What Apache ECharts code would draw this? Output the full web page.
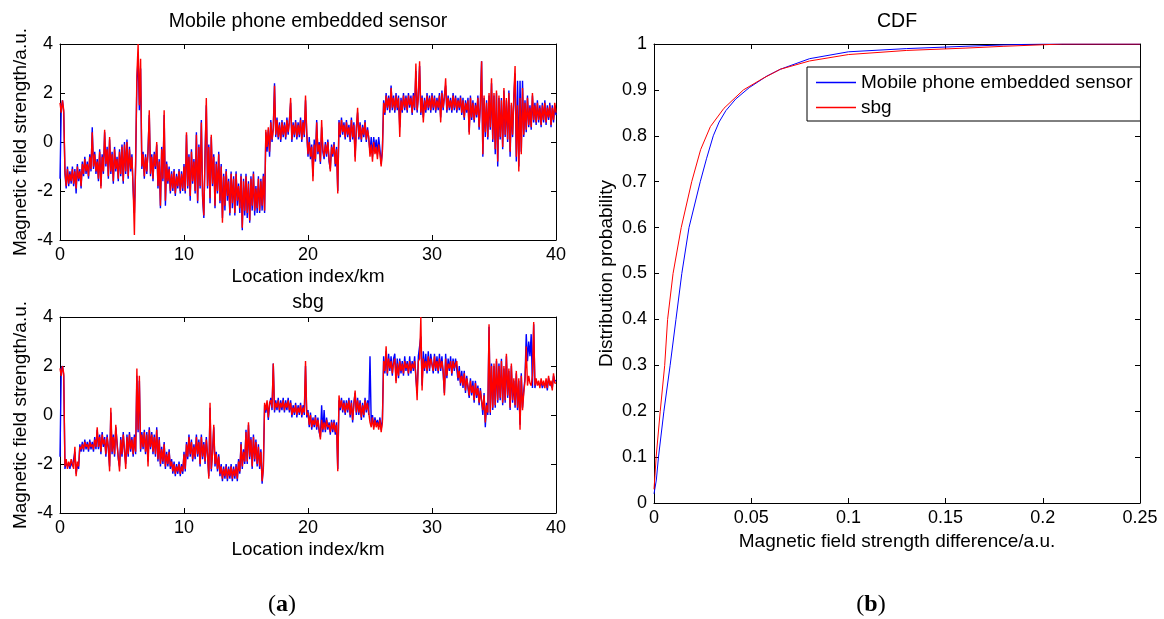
<!DOCTYPE html>
<html>
<head>
<meta charset="utf-8">
<script src="https://cdn.jsdelivr.net/npm/echarts@6/dist/echarts.min.js"></script>
<style>
html,body{margin:0;padding:0;background:#fff;}
#chart{width:1164px;height:619px;}
</style>
</head>
<body>
<div id="chart"></div>
<script>
// ---------- DATA ----------
// Location index (km) sampled every 0.1 km from 0 to 40 (one row per km)
const kmStep = 0.1;
const kmTicks = [0, 10, 20, 30, 40];
const fieldTicks = [-4, -2, 0, 2, 4];

// Panel (a) top: "Mobile phone embedded sensor"
const phoneBlue = [
 -1.5,1.4,1.7,1.2,-1.3,-1.9,-1.0,-1.8,-1.2,-1.7,
 -1.0,-1.8,-1.1,-2.1,-0.9,-1.6,-1.1,-1.9,-0.8,-1.4,
 -0.6,-1.3,-0.8,-1.5,-0.5,-1.2,0.6,-1.1,-0.4,-1.3,
 -0.7,-1.6,-0.3,-1.8,-0.5,-1.3,0.4,-1.0,-0.2,-1.5,
 0.1,-1.3,-0.4,-1.7,-0.2,-1.2,-0.6,-1.6,-0.3,-1.4,
 -0.1,-1.7,0.0,-1.3,0.1,-1.5,-0.2,-1.2,-0.5,-2.0,
 -2.9,-0.9,2.4,3.5,1.3,3.0,-1.1,-0.4,-1.5,-0.5,
 -1.3,-0.3,1.1,-1.4,-0.5,-1.6,-0.4,-1.1,-0.1,-1.9,
 -0.7,-2.7,-0.2,-1.6,1.1,-2.6,-0.8,-1.7,-1.0,-2.1,
 -1.2,-2.0,-1.1,-2.2,-1.3,-1.9,-1.1,-2.1,-1.2,-2.0,
 -0.9,-2.1,0.3,-1.9,-0.5,-2.4,-0.3,-1.7,-0.7,-2.1,
 0.4,-2.5,-0.1,-1.9,0.9,-2.3,-3.1,-0.4,1.5,-1.9,
 -0.1,-2.5,0.2,-1.8,-0.5,-2.7,-0.8,-2.1,-0.4,-2.5,
 -0.9,-3.1,-1.3,-2.8,-1.1,-2.4,-1.5,-3.0,-1.2,-2.7,
 -1.4,-3.0,-1.2,-2.6,-1.7,-2.9,-1.3,-3.6,-1.5,-3.0,
 -1.3,-3.1,-1.6,-3.3,-1.4,-2.8,-1.2,-3.0,-1.8,-2.9,
 -1.4,-2.9,-1.5,-2.8,-1.3,-2.9,0.4,-0.4,0.5,-0.6,
 0.9,0.0,0.6,2.4,0.2,1.0,0.1,0.8,0.0,0.9,
 0.2,0.8,0.1,1.0,0.3,0.9,1.6,0.0,0.8,0.2,
 0.9,0.1,0.8,0.2,1.0,0.0,0.9,0.2,1.7,0.3,
 -0.6,0.2,-0.7,-0.1,-1.4,0.1,-0.8,0.9,-0.5,0.0,
 -0.9,0.6,-0.4,-0.7,0.0,-0.6,0.1,-0.8,-1.1,-0.1,
 -0.6,0.0,-1.0,-0.2,-2.0,0.9,0.2,1.0,0.3,0.8,
 0.1,0.9,0.2,0.7,0.0,1.0,0.1,0.8,-0.6,0.6,
 1.2,0.1,0.8,0.0,0.7,0.2,0.9,0.0,0.6,0.1,
 -0.4,0.2,-0.6,0.2,-0.3,0.1,-0.5,0.2,-0.3,-0.9,
 -0.3,1.7,1.1,2.0,1.3,1.9,1.2,2.3,1.3,1.9,
 1.2,2.0,1.3,1.9,0.6,1.8,1.2,2.0,1.3,1.9,
 1.2,2.0,1.4,1.9,1.1,2.0,1.3,2.9,1.2,1.9,
 3.1,1.1,1.9,1.0,1.8,1.2,2.0,1.3,1.9,1.2,
 2.0,1.3,1.9,1.2,1.8,1.3,2.0,1.0,2.1,1.3,
 1.9,2.3,1.2,1.9,1.3,1.8,1.2,2.0,1.3,1.9,
 1.2,1.8,1.3,1.9,1.1,1.8,0.9,1.7,1.2,1.8,
 0.4,1.9,0.9,1.7,0.8,1.6,1.0,1.9,0.5,1.6,
 3.3,-0.6,1.8,0.2,1.7,0.1,1.9,0.5,2.4,0.0,
 1.9,-0.5,2.0,-1.0,1.8,0.1,1.8,-0.3,2.1,0.2,
 1.7,0.0,2.1,-0.6,1.5,0.2,1.8,2.8,-0.8,2.5,
 -1.0,2.5,-0.4,2.5,0.2,1.7,0.4,1.9,0.6,1.5,
 0.5,1.9,0.8,1.6,0.7,1.7,0.8,1.5,0.6,1.6,
 0.8,1.7,0.7,1.5,0.9,1.6,0.6,1.5,0.8,1.5,
 1.1
];
const phoneRed = [
 1.6,1.2,1.7,1.3,-1.2,-1.8,-1.1,-1.7,-1.3,-1.6,
 -1.1,-1.7,-1.2,-1.9,-1.0,-1.5,-1.2,-1.8,-0.9,-1.3,
 -0.7,-1.2,-0.9,-1.4,-0.6,-1.1,0.4,-1.0,-0.5,-1.2,
 -0.8,-1.5,-0.4,-1.9,-0.6,-1.2,0.5,-0.9,-0.3,-1.4,
 0.2,-1.2,-0.5,-1.6,-0.3,-1.1,-0.7,-1.5,-0.4,-1.3,
 -0.2,-1.6,-0.1,-1.2,0.0,-1.4,-0.3,-1.1,-0.6,-1.9,
 -3.8,-0.8,2.7,4.0,1.5,3.4,-1.0,-0.5,-1.4,-0.6,
 -1.2,-0.4,1.3,-1.3,-0.6,-1.5,-0.5,-1.0,0.0,-1.8,
 -0.8,-2.6,-0.3,-1.5,1.3,-2.4,-0.9,-1.6,-1.1,-2.0,
 -1.3,-1.9,-1.2,-2.1,-1.4,-1.8,-1.2,-2.0,-1.3,-1.9,
 -1.0,-2.0,0.4,-1.8,-0.6,-2.2,-0.4,-1.6,-0.8,-2.0,
 0.3,-2.4,-0.2,-1.8,0.8,-2.2,-3.0,-0.5,1.8,-1.8,
 -0.2,-2.3,0.3,-1.7,-0.6,-2.6,-0.9,-2.0,-0.5,-2.4,
 -1.0,-3.3,-1.4,-2.6,-1.2,-2.2,-1.6,-2.9,-1.3,-2.5,
 -1.5,-2.9,-1.3,-2.4,-1.8,-2.7,-1.4,-3.5,-1.6,-2.8,
 -1.4,-2.9,-1.7,-3.2,-1.5,-2.6,-1.3,-2.8,-1.9,-2.7,
 -1.5,-2.8,-1.6,-2.6,-1.4,-2.8,0.5,-0.2,0.6,-0.4,
 0.8,0.1,0.5,2.3,0.3,0.9,0.2,0.7,0.1,0.8,
 0.3,0.7,0.2,0.9,0.4,0.8,1.8,0.1,0.7,0.3,
 0.8,0.2,0.7,0.3,0.9,0.1,0.8,0.3,1.9,0.4,
 -0.5,0.0,-0.6,-0.2,-1.6,-0.1,-0.7,0.8,-0.4,-0.1,
 -0.8,0.9,-0.3,-0.6,-0.1,-0.5,0.0,-0.7,-1.2,-0.2,
 -0.5,-0.1,-0.9,-0.3,-2.1,0.8,0.3,0.9,0.4,0.7,
 0.2,0.8,0.3,0.6,0.1,0.9,0.2,0.7,-0.8,0.5,
 1.4,0.2,0.7,0.1,0.6,0.3,0.8,0.1,0.5,0.2,
 -0.6,-0.1,-0.8,0.0,-0.5,-0.2,-0.7,-0.1,-0.5,-1.0,
 -0.4,1.6,1.2,1.9,1.4,1.8,1.3,2.2,1.4,1.8,
 1.3,1.9,1.4,1.8,0.2,1.7,1.3,1.9,1.4,1.8,
 1.3,1.9,1.5,1.8,1.2,1.9,1.4,3.2,1.3,1.8,
 3.3,1.2,1.8,0.8,1.7,1.3,1.9,1.4,1.8,1.3,
 1.9,1.4,1.8,1.3,1.7,1.4,1.9,0.8,2.0,1.4,
 1.8,2.6,1.3,1.8,1.4,1.7,1.3,1.9,1.4,1.8,
 1.3,1.7,1.4,1.8,1.2,1.7,1.0,1.6,1.3,1.7,
 0.3,1.8,1.0,1.6,0.9,1.5,1.1,1.8,0.6,1.5,
 3.3,-0.5,1.9,0.4,1.6,0.2,2.0,0.6,2.6,0.1,
 2.0,-0.3,2.1,-0.8,1.9,0.2,1.7,-0.2,2.2,0.3,
 1.8,0.1,2.0,-0.4,1.6,0.3,1.9,3.1,-0.6,1.5,
 -1.2,1.8,-0.5,2.2,0.3,1.6,0.5,1.8,0.7,1.4,
 0.6,2.0,0.9,1.5,0.8,1.6,0.9,1.4,0.7,1.5,
 0.9,1.6,0.8,1.4,1.0,1.5,0.7,1.4,0.9,1.6,
 1.2
];

// Panel (a) bottom: "sbg"
const sbgBlue = [
 -1.7,1.9,2.0,1.6,-2.2,-1.9,-2.1,-2.0,-2.2,-1.9,
 -2.1,-2.1,-1.5,-2.4,-2.0,-2.2,-1.2,-1.5,-1.1,-1.5,
 -1.0,-1.4,-1.1,-1.5,-1.0,-1.4,-1.1,-1.5,-0.9,-1.4,
 -0.6,-1.4,-0.8,-1.6,-0.7,-1.3,-0.9,-1.7,-0.8,-1.4,
 -2.1,0.1,-1.6,-0.8,-1.7,-0.5,-1.1,-1.8,-2.1,-0.9,
 -1.7,-0.7,-1.5,-2.0,-0.8,-1.7,-0.7,-1.5,-0.9,-1.7,
 -0.8,-1.6,1.6,-0.7,1.4,-1.5,-0.7,-1.4,-0.6,-1.6,
 -0.7,-1.9,-0.5,-1.4,-0.7,-1.6,-0.8,-1.7,-0.5,-1.9,
 -0.9,-2.1,-1.3,-2.0,-1.1,-2.2,-1.5,-2.1,-1.4,-2.2,
 -1.8,-2.4,-1.9,-2.5,-2.0,-2.4,-1.9,-2.5,-2.0,-2.4,
 -1.5,-2.3,-1.1,-1.8,-0.8,-1.7,-1.0,-1.9,-1.2,-1.8,
 -0.8,-1.7,-1.0,-2.1,-0.8,-1.8,-1.1,-2.0,-0.9,-1.7,
 -2.5,0.3,-2.3,-1.5,-0.5,-2.1,-1.5,-2.3,-1.6,-2.5,
 -2.0,-2.7,-2.1,-2.6,-2.0,-2.7,-2.1,-2.6,-2.0,-2.7,
 -2.1,-2.6,-2.0,-2.7,-1.8,-2.4,-1.1,-2.2,-1.4,-2.0,
 -0.6,-2.0,-0.4,-1.8,-0.9,-2.2,-0.8,-1.9,-1.0,-2.1,
 -1.2,-2.2,-1.4,-2.8,-2.1,0.4,0.1,0.5,-0.2,0.4,
 0.7,0.2,2.1,0.1,0.6,0.2,0.7,0.1,0.6,0.2,
 0.7,0.1,0.6,0.2,0.7,0.1,0.6,-0.1,0.4,0.0,
 0.5,-0.1,0.4,0.0,0.5,-0.1,0.4,0.0,2.0,-0.1,
 0.2,-0.5,0.1,-0.6,-0.1,-0.5,0.0,-0.6,-0.1,-0.7,
 -0.9,0.4,-0.7,0.2,-0.7,-0.1,-0.6,-0.3,-0.8,-0.2,
 -0.7,-0.2,-0.8,-0.3,-2.2,0.6,0.2,0.7,0.1,0.6,
 0.0,0.6,0.1,0.7,-0.1,0.6,-0.3,0.5,0.9,0.0,
 0.7,0.0,0.6,-0.2,0.5,-0.1,0.7,0.1,0.6,0.0,
 2.4,-0.4,0.0,-0.5,-0.1,-0.4,-0.2,-0.5,-0.1,-0.6,
 -0.2,2.4,1.7,2.6,1.6,2.5,1.8,2.4,1.6,2.3,
 2.5,1.4,2.3,1.5,2.3,1.7,2.2,1.6,2.4,1.8,
 2.2,1.6,2.4,1.7,2.2,1.8,2.4,1.5,0.9,2.4,
 2.4,3.2,1.2,2.6,1.8,2.5,1.7,2.6,1.8,2.5,
 2.5,1.7,2.5,1.8,2.4,1.7,2.5,1.8,2.4,1.7,
 0.9,2.5,1.5,2.3,1.8,2.4,1.6,2.3,1.8,2.3,
 2.3,1.4,2.0,1.2,1.8,1.1,1.8,0.9,1.6,1.1,
 0.7,1.5,0.8,1.4,0.5,1.4,0.7,1.2,0.4,1.1,
 1.1,0.0,0.9,-0.5,0.5,0.0,3.6,0.0,2.1,0.2,
 2.0,0.3,2.2,0.5,2.1,0.6,2.3,0.4,1.9,0.5,
 2.4,0.7,1.8,0.2,2.0,0.5,1.4,0.3,1.7,0.2,
 1.4,-0.4,1.7,0.3,1.0,1.5,3.3,2.2,3.0,2.4,
 3.3,1.1,3.7,1.1,1.4,1.3,1.3,1.2,1.4,1.1,
 1.3,1.2,1.4,1.0,1.5,1.3,1.3,1.1,1.6,1.4,
 1.4
];
const sbgRed = [
 1.9,1.6,2.0,1.7,-2.1,-1.8,-2.2,-1.9,-2.1,-1.8,
 -2.0,-2.2,-1.3,-2.5,-1.9,-2.1,-1.3,-1.4,-1.2,-1.4,
 -1.1,-1.3,-1.2,-1.4,-1.1,-1.3,-1.2,-1.4,-1.0,-1.3,
 -0.5,-1.3,-0.9,-1.5,-0.8,-1.2,-1.0,-1.6,-0.9,-1.3,
 -2.3,0.3,-1.5,-0.9,-1.6,-0.4,-1.2,-1.7,-2.3,-1.0,
 -1.6,-0.8,-1.4,-2.2,-0.9,-1.6,-0.8,-1.4,-1.0,-1.6,
 -0.9,-1.5,1.9,-0.6,1.6,-1.4,-0.8,-1.3,-0.7,-1.5,
 -0.8,-2.1,-0.6,-1.3,-0.8,-1.5,-0.9,-1.6,-0.6,-1.8,
 -1.0,-2.0,-1.4,-1.9,-1.2,-2.1,-1.6,-2.0,-1.5,-2.1,
 -1.9,-2.3,-2.0,-2.4,-2.1,-2.3,-2.0,-2.4,-2.1,-2.3,
 -1.6,-2.2,-1.2,-1.7,-0.9,-1.6,-1.1,-1.8,-1.3,-1.7,
 -0.9,-1.6,-1.1,-2.0,-0.9,-1.7,-1.2,-1.9,-1.0,-1.6,
 -2.6,0.5,-2.2,-1.6,-0.4,-2.0,-1.6,-2.2,-1.7,-2.4,
 -2.1,-2.6,-2.2,-2.5,-2.1,-2.6,-2.2,-2.5,-2.1,-2.6,
 -2.2,-2.5,-2.1,-2.6,-1.9,-2.3,-1.2,-2.1,-1.5,-1.9,
 -0.7,-1.9,-0.3,-1.7,-1.0,-2.1,-0.9,-1.8,-1.1,-2.0,
 -1.3,-2.1,-1.5,-2.7,-2.2,0.5,0.2,0.6,-0.1,0.5,
 0.6,0.3,2.1,0.2,0.5,0.3,0.6,0.2,0.5,0.3,
 0.6,0.2,0.5,0.3,0.6,0.2,0.5,0.0,0.3,0.1,
 0.4,0.0,0.3,0.1,0.4,0.0,0.3,0.1,2.2,0.0,
 0.1,-0.4,0.0,-0.5,-0.2,-0.4,-0.1,-0.5,-0.2,-0.6,
 -1.0,-0.2,-0.6,-0.3,-0.6,-0.2,-0.5,-0.4,-0.7,-0.3,
 -0.6,-0.3,-0.7,-0.4,-2.3,0.8,0.3,0.6,0.2,0.5,
 0.1,0.5,0.2,0.6,0.0,0.5,-0.2,0.4,1.0,0.1,
 0.6,0.1,0.5,-0.1,0.4,0.0,0.6,0.2,0.5,0.1,
 -0.3,-0.5,-0.1,-0.6,-0.2,-0.5,-0.3,-0.6,-0.2,-0.7,
 -0.3,2.2,1.8,2.8,1.7,2.3,1.9,2.2,1.7,2.1,
 2.3,1.3,2.1,1.6,2.2,1.8,2.1,1.7,2.2,1.9,
 2.1,1.7,2.2,1.8,2.1,1.9,2.2,1.6,0.6,2.2,
 2.3,4.0,1.0,2.3,1.9,2.2,1.8,2.4,1.9,2.3,
 2.3,1.8,2.4,1.9,2.2,1.8,2.3,1.9,2.2,1.8,
 0.8,2.3,1.6,2.1,1.9,2.2,1.7,2.2,1.9,2.1,
 2.2,1.5,1.8,1.3,1.6,1.2,1.7,1.0,1.5,1.2,
 0.8,1.4,0.9,1.2,0.6,1.3,0.8,1.1,0.5,1.0,
 1.0,0.2,0.8,-0.3,0.4,0.1,3.7,0.1,2.0,0.3,
 2.1,0.4,2.3,0.6,2.0,0.7,2.2,0.5,2.0,0.6,
 2.5,0.8,1.9,0.3,2.1,0.6,1.5,0.4,1.8,0.3,
 1.5,-0.6,1.6,0.2,0.9,1.4,2.8,1.2,1.6,1.3,
 1.2,1.6,3.8,1.2,1.5,1.2,1.4,1.1,1.5,1.2,
 1.4,1.1,1.5,1.1,1.6,1.2,1.4,1.0,1.7,1.3,
 1.3
];

// Panel (b): CDF of magnetic field strength difference
const cdfPhoneX = [0, 0.0012, 0.0023, 0.0051, 0.0083, 0.0113, 0.0143, 0.018, 0.0238, 0.0270, 0.0305, 0.0335, 0.037, 0.042, 0.049, 0.058, 0.065, 0.08, 0.1, 0.13, 0.16, 0.18, 0.2, 0.25];
const cdfPhoneY = [0.02, 0.05, 0.1, 0.2, 0.3, 0.4, 0.5, 0.6, 0.7, 0.75, 0.8, 0.83, 0.855, 0.88, 0.905, 0.93, 0.945, 0.968, 0.983, 0.99, 0.995, 0.998, 1.0, 1.0];
const cdfSbgX = [0, 0.0005, 0.0011, 0.0032, 0.0055, 0.007, 0.0098, 0.014, 0.0194, 0.024, 0.029, 0.036, 0.046, 0.056, 0.065, 0.08, 0.1, 0.13, 0.16, 0.18, 0.21, 0.25];
const cdfSbgY = [0.03, 0.06, 0.1, 0.2, 0.3, 0.4, 0.5, 0.6, 0.7, 0.77, 0.82, 0.86, 0.9, 0.925, 0.945, 0.963, 0.977, 0.986, 0.991, 0.995, 1.0, 1.0];
const cdfXTicks = [0, 0.05, 0.1, 0.15, 0.2, 0.25];

const legendNames = ['Mobile phone embedded sensor', 'sbg'];

// ---------- CHART ----------
const FONT = "'Liberation Sans', Arial, Helvetica, sans-serif";
const BLUE = '#0000ff', RED = '#ff0000';
const toSeries = arr => arr.map((v, i) => [+(i * kmStep).toFixed(1), v]);
const zip = (xs, ys) => xs.map((x, i) => [x, ys[i]]);

const tick = {show: true, inside: true, length: 5, lineStyle: {color: '#000', width: 1}};
const line = {show: true, onZero: false, lineStyle: {color: '#000', width: 1}};
const lbl = {color: '#000', fontSize: 18, fontFamily: FONT};
const nameStyle = {color: '#000', fontSize: 19, fontFamily: FONT};

function xPair(grid, min, max, interval, name, fmt) {
  return [
    {gridIndex: grid, type: 'value', position: 'bottom', min, max, interval,
     axisLine: line, axisTick: tick, splitLine: {show: false},
     axisLabel: Object.assign({margin: 6, formatter: fmt}, lbl),
     name, nameLocation: 'middle', nameGap: 27, nameTextStyle: nameStyle},
    {gridIndex: grid, type: 'value', position: 'top', min, max, interval,
     axisLine: line, axisTick: tick, splitLine: {show: false}, axisLabel: {show: false}}
  ];
}
function yPair(grid, min, max, interval, name, gap, fmt) {
  return [
    {gridIndex: grid, type: 'value', position: 'left', min, max, interval,
     axisLine: line, axisTick: tick, splitLine: {show: false},
     axisLabel: Object.assign({margin: 7, formatter: fmt}, lbl),
     name, nameLocation: 'middle', nameGap: gap, nameTextStyle: nameStyle},
    {gridIndex: grid, type: 'value', position: 'right', min, max, interval,
     axisLine: line, axisTick: tick, splitLine: {show: false}, axisLabel: {show: false}}
  ];
}
const fmtNum = v => String(+v.toFixed(2));

const xAxes = [].concat(
  xPair(0, kmTicks[0], kmTicks[kmTicks.length - 1], kmTicks[1] - kmTicks[0], 'Location index/km', fmtNum),
  xPair(1, kmTicks[0], kmTicks[kmTicks.length - 1], kmTicks[1] - kmTicks[0], 'Location index/km', fmtNum),
  xPair(2, cdfXTicks[0], cdfXTicks[cdfXTicks.length - 1], 0.05, 'Magnetic field strength difference/a.u.', fmtNum)
);
const yAxes = [].concat(
  yPair(0, fieldTicks[0], fieldTicks[fieldTicks.length - 1], 2, 'Magnetic field strength/a.u.', 30, fmtNum),
  yPair(1, fieldTicks[0], fieldTicks[fieldTicks.length - 1], 2, 'Magnetic field strength/a.u.', 30, fmtNum),
  yPair(2, 0, 1, 0.1, 'Distribution probability', 38, fmtNum)
);

function ln(name, data, color, xi, yi, w) {
  return {name, type: 'line', data, xAxisIndex: xi, yAxisIndex: yi,
    showSymbol: false, symbol: 'none', animation: false, smooth: false,
    lineStyle: {color, width: w}, itemStyle: {color}, clip: true, z: color === RED ? 3 : 2};
}

const option = {
  backgroundColor: '#fff',
  animation: false,
  textStyle: {fontFamily: FONT},
  grid: [
    {left: 60, top: 44, width: 496, height: 196},
    {left: 60, top: 317, width: 496, height: 196},
    {left: 654, top: 44, width: 486, height: 459}
  ],
  xAxis: xAxes,
  yAxis: yAxes,
  legend: {
    data: legendNames, orient: 'vertical', left: 807, top: 67,
    icon: 'rect', itemWidth: 40, itemHeight: 1.5, itemGap: 6,
    padding: [6, 8, 4, 9], borderColor: '#000', borderWidth: 1, backgroundColor: '#fff',
    textStyle: {color: '#000', fontSize: 19, fontFamily: FONT}, selectedMode: false
  },
  graphic: [
    {type: 'text', x: 308, y: 22, style: {text: 'Mobile phone embedded sensor', fill: '#000', font: '19.5px ' + FONT, textAlign: 'center', textVerticalAlign: 'middle'}},
    {type: 'text', x: 308, y: 303, style: {text: 'sbg', fill: '#000', font: '19.5px ' + FONT, textAlign: 'center', textVerticalAlign: 'middle'}},
    {type: 'text', x: 897, y: 22, style: {text: 'CDF', fill: '#000', font: '19.5px ' + FONT, textAlign: 'center', textVerticalAlign: 'middle'}},
    {type: 'text', x: 282, y: 605, style: {text: '({b|a})', fill: '#000', font: "24px 'Liberation Serif', 'DejaVu Serif', serif", textAlign: 'center', textVerticalAlign: 'middle',
      rich: {b: {fontWeight: 'bold', fontSize: 24, fontFamily: "'Liberation Serif', 'DejaVu Serif', serif"}}}},
    {type: 'text', x: 871, y: 605, style: {text: '({b|b})', fill: '#000', font: "24px 'Liberation Serif', 'DejaVu Serif', serif", textAlign: 'center', textVerticalAlign: 'middle',
      rich: {b: {fontWeight: 'bold', fontSize: 24, fontFamily: "'Liberation Serif', 'DejaVu Serif', serif"}}}}
  ],
  series: [
    ln('phone-blue', toSeries(phoneBlue), BLUE, 0, 0, 1.4),
    ln('phone-red', toSeries(phoneRed), RED, 0, 0, 1.4),
    ln('sbg-blue', toSeries(sbgBlue), BLUE, 2, 2, 1.4),
    ln('sbg-red', toSeries(sbgRed), RED, 2, 2, 1.4),
    ln(legendNames[0], zip(cdfPhoneX, cdfPhoneY), BLUE, 4, 4, 1),
    ln(legendNames[1], zip(cdfSbgX, cdfSbgY), RED, 4, 4, 1)
  ]
};

const chart = echarts.init(document.getElementById('chart'), null, {renderer: 'canvas'});
chart.setOption(option);
</script>
</body>
</html>
